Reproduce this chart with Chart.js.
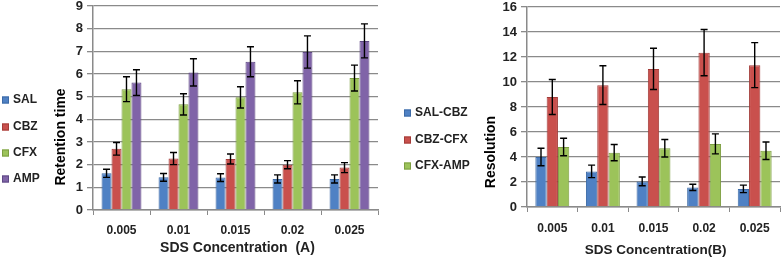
<!DOCTYPE html>
<html>
<head>
<meta charset="utf-8">
<script src="https://cdn.jsdelivr.net/npm/chart.js@4/dist/chart.umd.min.js"></script>
<style>
  html, body { margin: 0; padding: 0; background: #fff; }
  #wrap { position: relative; width: 784px; height: 259px; }
  #left { position: absolute; left: 0; top: 0; }
  #right { position: absolute; left: 392px; top: 0; }
</style>
</head>
<body>
<div id="wrap">
  <canvas id="left" width="392" height="259"></canvas>
  <canvas id="right" width="392" height="259"></canvas>
</div>
<script>
// categories
const concentrations = ["0.005", "0.01", "0.015", "0.02", "0.025"];

// retention time (A)
const salRt = [1.62, 1.44, 1.43, 1.37, 1.37];
const salRtErr = [0.18, 0.17, 0.17, 0.18, 0.18];
const cbzRt = [2.70, 2.27, 2.25, 2.00, 1.87];
const cbzRtErr = [0.28, 0.27, 0.22, 0.18, 0.22];
const cfxRt = [5.33, 4.66, 4.97, 5.19, 5.82];
const cfxRtErr = [0.55, 0.47, 0.47, 0.51, 0.57];
const ampRt = [5.62, 6.07, 6.54, 6.97, 7.46];
const ampRtErr = [0.57, 0.60, 0.66, 0.71, 0.75];

// resolution (B)
const salCbzRes = [4.0, 2.85, 2.05, 1.57, 1.45];
const salCbzErr = [0.7, 0.5, 0.35, 0.25, 0.3];
const cbzCfxRes = [8.8, 9.75, 11.05, 12.35, 11.35];
const cbzCfxErr = [1.4, 1.55, 1.65, 1.85, 1.8];
const cfxAmpRes = [4.8, 4.35, 4.7, 5.05, 4.5];
const cfxAmpErr = [0.7, 0.65, 0.7, 0.8, 0.7];

// axis ticks
const rtTicks = [0, 1, 2, 3, 4, 5, 6, 7, 8, 9];
const resTicks = [0, 2, 4, 6, 8, 10, 12, 14, 16];

const BLUE = '#4f81c4', RED = '#c9504d', GREEN = '#9cc35a', PURPLE = '#8064a8';
const BLUE_B = '#3c6aa6', RED_B = '#a33c39', GREEN_B = '#7d9e42', PURPLE_B = '#5e4884';
const FONT = "'Liberation Sans', Arial, sans-serif";

Chart.defaults.font.family = FONT;
Chart.defaults.color = '#000';

// error bars, legend and axis titles drawn on top
const extras = {
    id: 'extras',
    afterDatasetsDraw(chart) {
        const ctx = chart.ctx;
        const y = chart.scales.y;
        ctx.save();
        ctx.strokeStyle = '#000';
        ctx.lineWidth = 1.4;
        chart.data.datasets.forEach((ds, di) => {
            const meta = chart.getDatasetMeta(di);
            meta.data.forEach((bar, i) => {
                const v = ds.data[i], e = ds.errors[i];
                const y1 = y.getPixelForValue(v + e), y2 = y.getPixelForValue(v - e);
                ctx.beginPath();
                ctx.moveTo(bar.x, y1); ctx.lineTo(bar.x, y2);
                ctx.moveTo(bar.x - 3.5, y1); ctx.lineTo(bar.x + 3.5, y1);
                ctx.moveTo(bar.x - 3.5, y2); ctx.lineTo(bar.x + 3.5, y2);
                ctx.stroke();
            });
        });
        ctx.restore();
    },
    afterDraw(chart) {
        const o = chart.options.plugins.extras;
        const ctx = chart.ctx;
        ctx.save();
        ctx.font = 'bold 12px ' + FONT;
        ctx.textBaseline = 'middle';
        chart.data.datasets.forEach((ds, i) => {
            const ly = o.legendY[i];
            ctx.fillStyle = ds.backgroundColor;
            ctx.fillRect(o.legendX, ly - 3.5, 7, 7);
            ctx.strokeStyle = ds.borderColor;
            ctx.lineWidth = 1;
            ctx.strokeRect(o.legendX + 0.5, ly - 3, 6, 6);
            ctx.fillStyle = '#222';
            ctx.textAlign = 'left';
            ctx.fillText(ds.label, o.legendX + 11, ly);
        });
        // x title
        ctx.font = 'bold ' + o.xTitleSize + 'px ' + FONT;
        ctx.textAlign = 'center';
        ctx.fillStyle = '#222';
        const ca = chart.chartArea;
        ctx.fillText(o.xTitle, (ca.left + ca.right) / 2 + 2, o.xTitleY);
        // y title
        ctx.translate(o.titleX, o.titleY);
        ctx.rotate(-Math.PI / 2);
        ctx.font = 'bold 14px ' + FONT;
        ctx.fillStyle = '#000';
        ctx.fillText(o.title, 0, 0);
        ctx.restore();
    }
};

function makeChart(el, sets, ticks, max, layout, extraOpts, catPct, xHeight, xPad) {
    return new Chart(el, {
        type: 'bar',
        data: {
            labels: concentrations,
            datasets: sets.map(s => ({
                label: s[0], data: s[1], errors: s[2],
                backgroundColor: s[3], borderColor: s[4], borderWidth: 1,
                categoryPercentage: catPct, barPercentage: 1.0
            }))
        },
        options: {
            responsive: false,
            animation: false,
            layout: { padding: layout },
            plugins: {
                legend: { display: false },
                tooltip: { enabled: false },
                extras: extraOpts
            },
            scales: {
                x: {
                    afterFit: s => { s.height = xHeight; },
                    grid: { drawOnChartArea: false, drawTicks: true, tickLength: 5, color: '#8a8a8a', offset: true },
                    border: { color: '#8a8a8a', width: 1.5 },
                    ticks: { padding: xPad, font: { size: 12, weight: 'bold' }, color: '#222' }
                },
                y: {
                    min: 0, max: max,
                    afterBuildTicks: s => { s.ticks = ticks.map(v => ({ value: v })); },
                    afterFit: s => { s.width = 28; s.paddingTop = layout.top; s.paddingBottom = 0; },
                    grid: { color: '#8a8a8a', lineWidth: 1.3, tickLength: 6 },
                    border: { color: '#8a8a8a', width: 1.5 },
                    ticks: { padding: 4, font: { size: 13, weight: 'bold' }, color: '#222' }
                }
            }
        },
        plugins: [extras]
    });
}

makeChart(document.getElementById('left'), [
    ['SAL', salRt, salRtErr, BLUE, BLUE_B],
    ['CBZ', cbzRt, cbzRtErr, RED, RED_B],
    ['CFX', cfxRt, cfxRtErr, GREEN, GREEN_B],
    ['AMP', ampRt, ampRtErr, PURPLE, PURPLE_B]
], rtTicks, 9,
    { left: 65, right: 14, top: 6, bottom: 0 },
    { legendX: 2, legendY: [100, 127, 153, 179], titleX: 61, titleY: 137, title: 'Retention time',
      xTitle: 'SDS Concentration  (A)', xTitleY: 248, xTitleSize: 14 },
    0.7, 49, 8);

makeChart(document.getElementById('right'), [
    ['SAL-CBZ', salCbzRes, salCbzErr, BLUE, BLUE_B],
    ['CBZ-CFX', cbzCfxRes, cbzCfxErr, RED, RED_B],
    ['CFX-AMP', cfxAmpRes, cfxAmpErr, GREEN, GREEN_B]
], resTicks, 16,
    { left: 107, right: 4, top: 7, bottom: 0 },
    { legendX: 12, legendY: [113, 140, 166], titleX: 99, titleY: 152, title: 'Resolution',
      xTitle: 'SDS Concentration(B)', xTitleY: 250, xTitleSize: 13.5 },
    0.67, 52, 9);
</script>
</body>
</html>
